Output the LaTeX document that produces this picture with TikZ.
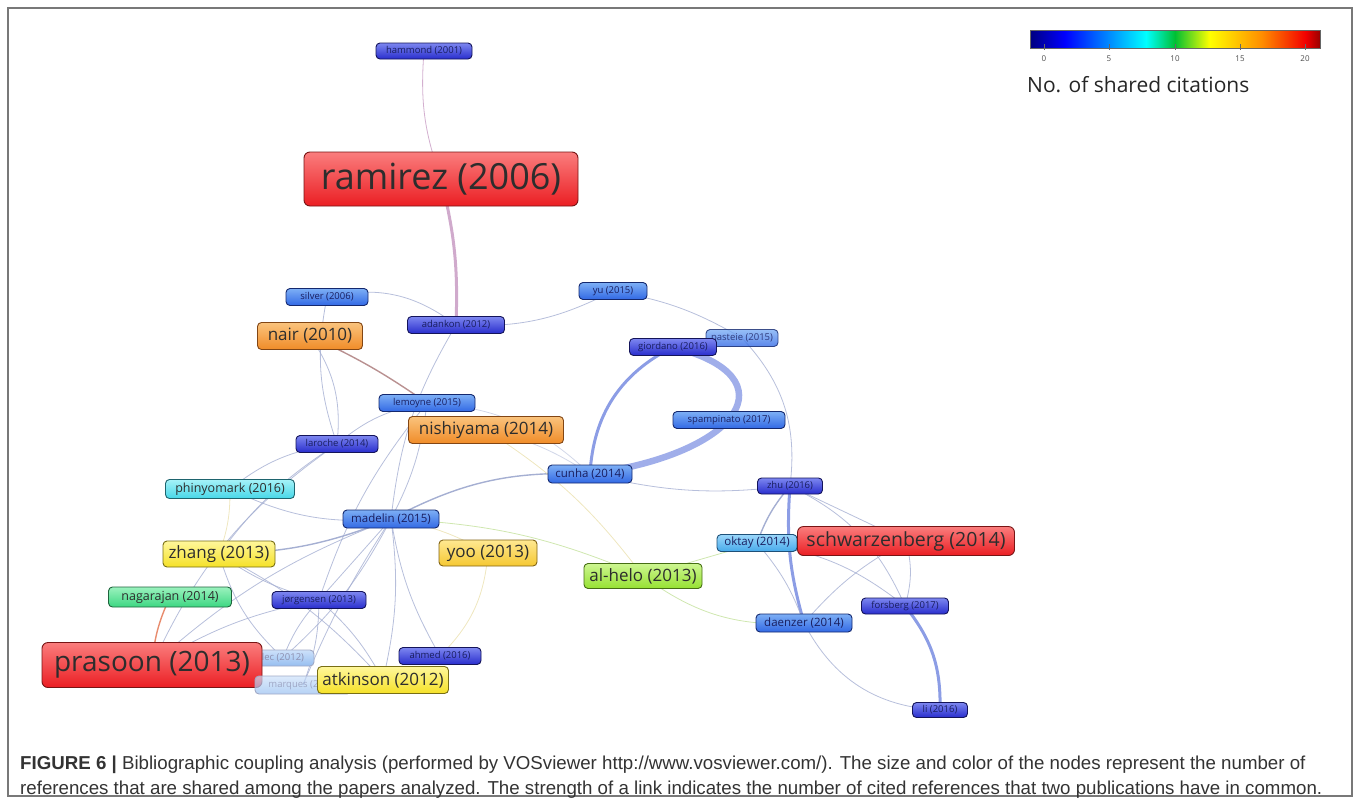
\documentclass[tikz,border=0pt]{standalone}
\usepackage{fontspec}
\setsansfont{Open Sans}
\newfontfamily\captionfont{Liberation Sans}
\usetikzlibrary{positioning}
\definecolor{navyFill}{RGB}{40,45,205}
\definecolor{navyTop}{RGB}{125,135,240}
\definecolor{navyEdge}{RGB}{20,20,90}
\definecolor{navyInk}{RGB}{25,30,95}
\definecolor{blueFill}{RGB}{50,105,228}
\definecolor{blueTop}{RGB}{125,175,245}
\definecolor{blueEdge}{RGB}{20,40,110}
\definecolor{skyFill}{RGB}{70,170,235}
\definecolor{skyTop}{RGB}{155,215,250}
\definecolor{skyEdge}{RGB}{30,80,120}
\definecolor{cyanFill}{RGB}{70,215,232}
\definecolor{cyanTop}{RGB}{165,242,248}
\definecolor{cyanEdge}{RGB}{30,100,110}
\definecolor{greenFill}{RGB}{60,215,130}
\definecolor{greenTop}{RGB}{155,242,190}
\definecolor{greenEdge}{RGB}{30,100,60}
\definecolor{limeFill}{RGB}{150,225,50}
\definecolor{limeTop}{RGB}{205,246,145}
\definecolor{limeEdge}{RGB}{70,110,20}
\definecolor{yellowFill}{RGB}{245,225,40}
\definecolor{yellowTop}{RGB}{255,247,155}
\definecolor{yellowEdge}{RGB}{120,110,20}
\definecolor{goldFill}{RGB}{245,200,50}
\definecolor{goldTop}{RGB}{255,232,145}
\definecolor{goldEdge}{RGB}{130,100,20}
\definecolor{orangeFill}{RGB}{240,140,40}
\definecolor{orangeTop}{RGB}{250,195,125}
\definecolor{orangeEdge}{RGB}{130,70,20}
\definecolor{redFill}{RGB}{235,30,35}
\definecolor{redTop}{RGB}{250,125,125}
\definecolor{redEdge}{RGB}{120,20,20}
\definecolor{fadedFill}{RGB}{150,190,240}
\definecolor{fadedTop}{RGB}{205,225,250}
\definecolor{labelInk}{RGB}{45,45,45}
\definecolor{linkGray}{RGB}{165,175,210}
\definecolor{linkBlue}{RGB}{120,140,225}
\definecolor{mauveLink}{RGB}{200,155,195}
\definecolor{brownLink}{RGB}{185,145,145}
\definecolor{limeLink}{RGB}{195,225,155}
\definecolor{sandLink}{RGB}{235,225,175}
\definecolor{coralLink}{RGB}{232,140,110}
\definecolor{frameGray}{RGB}{120,120,120}
\pgfdeclarehorizontalshading{sharedCitations}{100bp}{rgb(0bp)=(0,0,0.5); rgb(25bp)=(0,0,0.5); rgb(31bp)=(0,0,1); rgb(45bp)=(0,1,1); rgb(50bp)=(0,0.75,0.2); rgb(56bp)=(1,1,0); rgb(65bp)=(1,0.55,0); rgb(72.5bp)=(0.95,0,0); rgb(75bp)=(0.6,0,0); rgb(100bp)=(0.6,0,0)}
\pgfdeclarelayer{links}
\pgfsetlayers{links,main}

\begin{document}
\begin{tikzpicture}[x=1pt,y=-1pt]

            \tikzstyle{paper} = [rounded corners=4pt, line width=0.9pt, inner sep=0pt, text=labelInk];
            \tikzstyle{navyPaper} = [paper, draw=navyEdge, top color=navyTop, bottom color=navyFill, text=navyInk];
            \tikzstyle{bluePaper} = [paper, draw=blueEdge, top color=blueTop, bottom color=blueFill, text=navyInk];
            \tikzstyle{skyPaper} = [paper, draw=skyEdge, top color=skyTop, bottom color=skyFill, text=navyInk];
            \tikzstyle{cyanPaper} = [paper, draw=cyanEdge, top color=cyanTop, bottom color=cyanFill];
            \tikzstyle{greenPaper} = [paper, draw=greenEdge, top color=greenTop, bottom color=greenFill];
            \tikzstyle{limePaper} = [paper, draw=limeEdge, top color=limeTop, bottom color=limeFill];
            \tikzstyle{yellowPaper} = [paper, draw=yellowEdge, top color=yellowTop, bottom color=yellowFill];
            \tikzstyle{goldPaper} = [paper, draw=goldEdge, top color=goldTop, bottom color=goldFill];
            \tikzstyle{orangePaper} = [paper, draw=orangeEdge, top color=orangeTop, bottom color=orangeFill];
            \tikzstyle{redPaper} = [paper, draw=redEdge, top color=redTop, bottom color=redFill, rounded corners=6pt];
            \tikzstyle{fadedPaper} = [paper, draw=blueEdge!40, top color=fadedTop, bottom color=fadedFill, text=navyInk!50];
            \tikzstyle{sizeS} = [font=\sffamily\fontsize{9.5}{10}\selectfont];
            \tikzstyle{sizeM} = [font=\sffamily\fontsize{11.5}{12}\selectfont];
            \tikzstyle{sizeML} = [font=\sffamily\fontsize{12.5}{13}\selectfont];
            \tikzstyle{sizeL} = [font=\sffamily\fontsize{17}{18}\selectfont];
            \tikzstyle{faintLink} = [line width=0.8pt, draw=linkGray, opacity=0.8];
            \tikzstyle{weakLink} = [line width=1.4pt, draw=linkGray];
            \tikzstyle{strongLink} = [line width=3pt, draw=linkBlue, opacity=0.85];
            \tikzstyle{heavyLink} = [line width=6.5pt, draw=linkBlue, opacity=0.7];
            \tikzstyle{captionText} = [anchor=base west, inner sep=0pt, font=\captionfont\fontsize{18.7}{19}\selectfont, text=black!80];

            \useasboundingbox (0,0) rectangle (1360,804);
            \draw[frameGray, line width=1.2pt] (8,8) rectangle (1352,796);

            \node[navyPaper, sizeS, minimum width=96, minimum height=16] (hammond) at (424,51) {hammond (2001)};
            \node[redPaper, font=\sffamily\fontsize{36}{38}\selectfont, minimum width=274, minimum height=54] (ramirez) at (441,179) {ramirez (2006)};
            \node[bluePaper, sizeS, minimum width=82, minimum height=17] (silver) at (327,297) {silver (2006)};
            \node[navyPaper, sizeS, minimum width=97, minimum height=17] (adankon) at (456,325) {adankon (2012)};
            \node[orangePaper, sizeL, minimum width=105, minimum height=27] (nair) at (310,336) {nair (2010)};
            \node[bluePaper, sizeS, minimum width=68, minimum height=17] (yu) at (613,291) {yu (2015)};
            \node[bluePaper, sizeS, minimum width=72, minimum height=17, opacity=0.8] (pasteie) at (742,338) {pasteie (2015)};
            \node[navyPaper, sizeS, minimum width=87, minimum height=17] (giordano) at (673,347) {giordano (2016)};
            \node[bluePaper, sizeS, minimum width=96, minimum height=17] (lemoyne) at (427,403) {lemoyne (2015)};
            \node[orangePaper, sizeL, minimum width=155, minimum height=27] (nishiyama) at (486,430) {nishiyama (2014)};
            \node[bluePaper, sizeS, minimum width=112, minimum height=17] (spampinato) at (729,420) {spampinato (2017)};
            \node[navyPaper, sizeS, minimum width=82, minimum height=17] (laroche) at (337,444) {laroche (2014)};
            \node[bluePaper, sizeM, minimum width=84, minimum height=18] (cunha) at (590,474) {cunha (2014)};
            \node[cyanPaper, sizeML, minimum width=129, minimum height=19] (phinyomark) at (230,489) {phinyomark (2016)};
            \node[navyPaper, sizeS, minimum width=65, minimum height=16] (zhu) at (790,486) {zhu (2016)};
            \node[bluePaper, sizeM, minimum width=96, minimum height=18] (madelin) at (391,519) {madelin (2015)};
            \node[yellowPaper, sizeL, minimum width=112, minimum height=26] (zhang) at (219,554) {zhang (2013)};
            \node[goldPaper, sizeL, minimum width=98, minimum height=26] (yoo) at (488,553) {yoo (2013)};
            \node[skyPaper, sizeM, minimum width=80, minimum height=17] (oktay) at (757,543) {oktay (2014)};
            \node[redPaper, font=\sffamily\fontsize{19.5}{20}\selectfont, minimum width=217, minimum height=29] (schwarzenberg) at (906,541) {schwarzenberg (2014)};
            \node[limePaper, sizeL, minimum width=118, minimum height=25] (alhelo) at (643,576) {al-helo (2013)};
            \node[greenPaper, sizeML, minimum width=123, minimum height=20] (nagarajan) at (170,597) {nagarajan (2014)};
            \node[navyPaper, sizeS, minimum width=94, minimum height=17] (jorgensen) at (319,600) {jørgensen (2013)};
            \node[navyPaper, sizeS, minimum width=87, minimum height=16] (forsberg) at (905,606) {forsberg (2017)};
            \node[bluePaper, sizeM, minimum width=96, minimum height=18] (daenzer) at (804,623) {daenzer (2014)};
            \node[navyPaper, sizeS, minimum width=82, minimum height=17] (ahmed) at (440,656) {ahmed (2016)};
            \node[fadedPaper, sizeS, minimum width=62, minimum height=16] (lec) at (283,658) {lec (2012)};
            \node[redPaper, font=\sffamily\fontsize{28}{30}\selectfont, minimum width=220, minimum height=45] (prasoon) at (152,665) {prasoon (2013)};
            \node[fadedPaper, sizeS, minimum width=96, minimum height=18, fill opacity=0.7] (marques) at (303,685) {marques (2012)};
            \node[yellowPaper, sizeL, minimum width=131, minimum height=27] (atkinson) at (383,680) {atkinson (2012)};
            \node[navyPaper, sizeS, minimum width=55, minimum height=15] (li) at (940,710) {li (2016)};

            \begin{pgfonlayer}{links}
            \draw[faintLink, draw=mauveLink] (hammond.center) to[bend right=12] (ramirez.center);
            \draw[strongLink, draw=mauveLink] (ramirez.center) to[bend left=8] (adankon.center);
            \draw[faintLink] (adankon.center) to[bend right=15] (yu.center);
            \draw[faintLink] (silver.center) to[bend left=25] (adankon.center);
            \draw[faintLink] (silver.center) to[bend right=15] (laroche.center);
            \draw[weakLink, draw=brownLink] (nair.center) to[bend left=5] (lemoyne.center);
            \draw[faintLink] (nair.center) to[bend left=20] (laroche.center);
            \draw[faintLink] (lemoyne.center) to[bend right=15] (laroche.center);
            \draw[faintLink] (adankon.center) to[bend right=12] (madelin.center);
            \draw[faintLink, opacity=0.5] (lemoyne.center) to[bend left=20] (cunha.center);
            \draw[faintLink, opacity=0.5] (nishiyama.center) to[bend left=10] (cunha.center);
            \draw[faintLink] (lemoyne.center) to[bend right=10] (jorgensen.center);
            \draw[faintLink] (yu.center) to[bend left=10] (pasteie.center);
            \draw[strongLink] (giordano.center) to[bend right=30] (cunha.center);
            \draw[heavyLink] (giordano.center) .. controls +(120,30) and +(150,-20) .. (cunha.center);
            \draw[faintLink] (pasteie.center) to[bend left=25] (zhu.center);
            \draw[weakLink] (cunha.center) to[bend right=15] (madelin.center);
            \draw[faintLink] (cunha.center) to[bend right=10] (zhu.center);
            \draw[strongLink] (zhu.center) to[bend right=10] (daenzer.center);
            \draw[weakLink] (zhu.center) to[bend right=10] (oktay.center);
            \draw[faintLink] (zhu.center) to (schwarzenberg.center);
            \draw[faintLink] (zhu.center) to[bend left=20] (forsberg.center);
            \draw[faintLink] (oktay.center) to[bend left=10] (daenzer.center);
            \draw[faintLink] (schwarzenberg.center) to[bend right=10] (daenzer.center);
            \draw[faintLink] (schwarzenberg.center) to[bend left=15] (forsberg.center);
            \draw[faintLink] (oktay.center) to[bend left=15] (forsberg.center);
            \draw[strongLink] (forsberg.center) to[bend left=20] (li.center);
            \draw[faintLink] (daenzer.center) to[bend right=30] (li.center);
            \draw[faintLink, draw=limeLink] (alhelo.center) to (oktay.center);
            \draw[faintLink, draw=limeLink] (alhelo.center) to[bend right=20] (daenzer.center);
            \draw[faintLink, draw=limeLink] (alhelo.center) to[bend right=10] (madelin.center);
            \draw[faintLink, draw=sandLink] (nishiyama.center) to[bend left=10] (alhelo.center);
            \draw[faintLink] (madelin.center) to[bend left=15] (phinyomark.center);
            \draw[faintLink] (laroche.center) to[bend right=15] (phinyomark.center);
            \draw[faintLink] (laroche.center) to[bend right=10] (zhang.center);
            \draw[faintLink] (laroche.center) to[bend right=15] (prasoon.center);
            \draw[faintLink] (lemoyne.center) to[bend left=10] (madelin.center);
            \draw[weakLink] (madelin.center) to[bend left=10] (zhang.center);
            \draw[faintLink] (madelin.center) to (jorgensen.center);
            \draw[faintLink] (madelin.center) to[bend right=10] (ahmed.center);
            \draw[faintLink] (madelin.center) to[bend left=10] (atkinson.center);
            \draw[faintLink] (madelin.center) to[bend right=10] (prasoon.center);
            \draw[faintLink] (madelin.center) to[bend left=10] (lec.center);
            \draw[faintLink] (madelin.center) to[bend right=5] (marques.center);
            \draw[faintLink] (zhang.center) to[bend right=10] (jorgensen.center);
            \draw[faintLink] (zhang.center) to[bend right=15] (lec.center);
            \draw[faintLink] (zhang.center) to[bend left=10] (atkinson.center);
            \draw[faintLink] (jorgensen.center) to[bend right=10] (lec.center);
            \draw[faintLink] (jorgensen.center) to[bend left=10] (marques.center);
            \draw[faintLink] (jorgensen.center) to[bend left=10] (atkinson.center);
            \draw[faintLink] (jorgensen.center) to[bend right=10] (prasoon.center);
            \draw[faintLink, draw=sandLink] (yoo.center) to[bend left=20] (ahmed.center);
            \draw[faintLink, draw=sandLink] (yoo.center) to[bend right=10] (madelin.center);
            \draw[faintLink, draw=sandLink] (zhang.center) to[bend right=10] (phinyomark.center);
            \draw[weakLink, draw=coralLink] (prasoon.center) to[bend left=10] (nagarajan.center);
            \end{pgfonlayer}

            \node[shade, shading=sharedCitations, draw=black!60, line width=0.4pt, minimum width=290, minimum height=18, inner sep=0pt] (colorBar) at (1175,39) {};
            \foreach \v/\x in {0/1044,5/1109,10/1175,15/1240,20/1305} {
              \draw[black!60, line width=0.6pt] (\x,44) -- (\x,50);
              \node[font=\sffamily\fontsize{8}{8}\selectfont, text=black!70] (tick\v) at (\x,59) {\v};
            }
            \node[anchor=west, font=\sffamily\fontsize{21}{22}\selectfont, text=black!85, inner sep=0pt] (legendTitle) at (1027,85) {No. of shared citations};

            \node[captionText] (captionA) at (20,769) {\textbf{FIGURE 6 |} Bibliographic coupling analysis (performed by VOSviewer http://www.vosviewer.com/). The size and color of the nodes represent the number of};
            \node[captionText] (captionB) at (20,794) {references that are shared among the papers analyzed. The strength of a link indicates the number of cited references that two publications have in common.};
          \end{tikzpicture}
\end{document}
